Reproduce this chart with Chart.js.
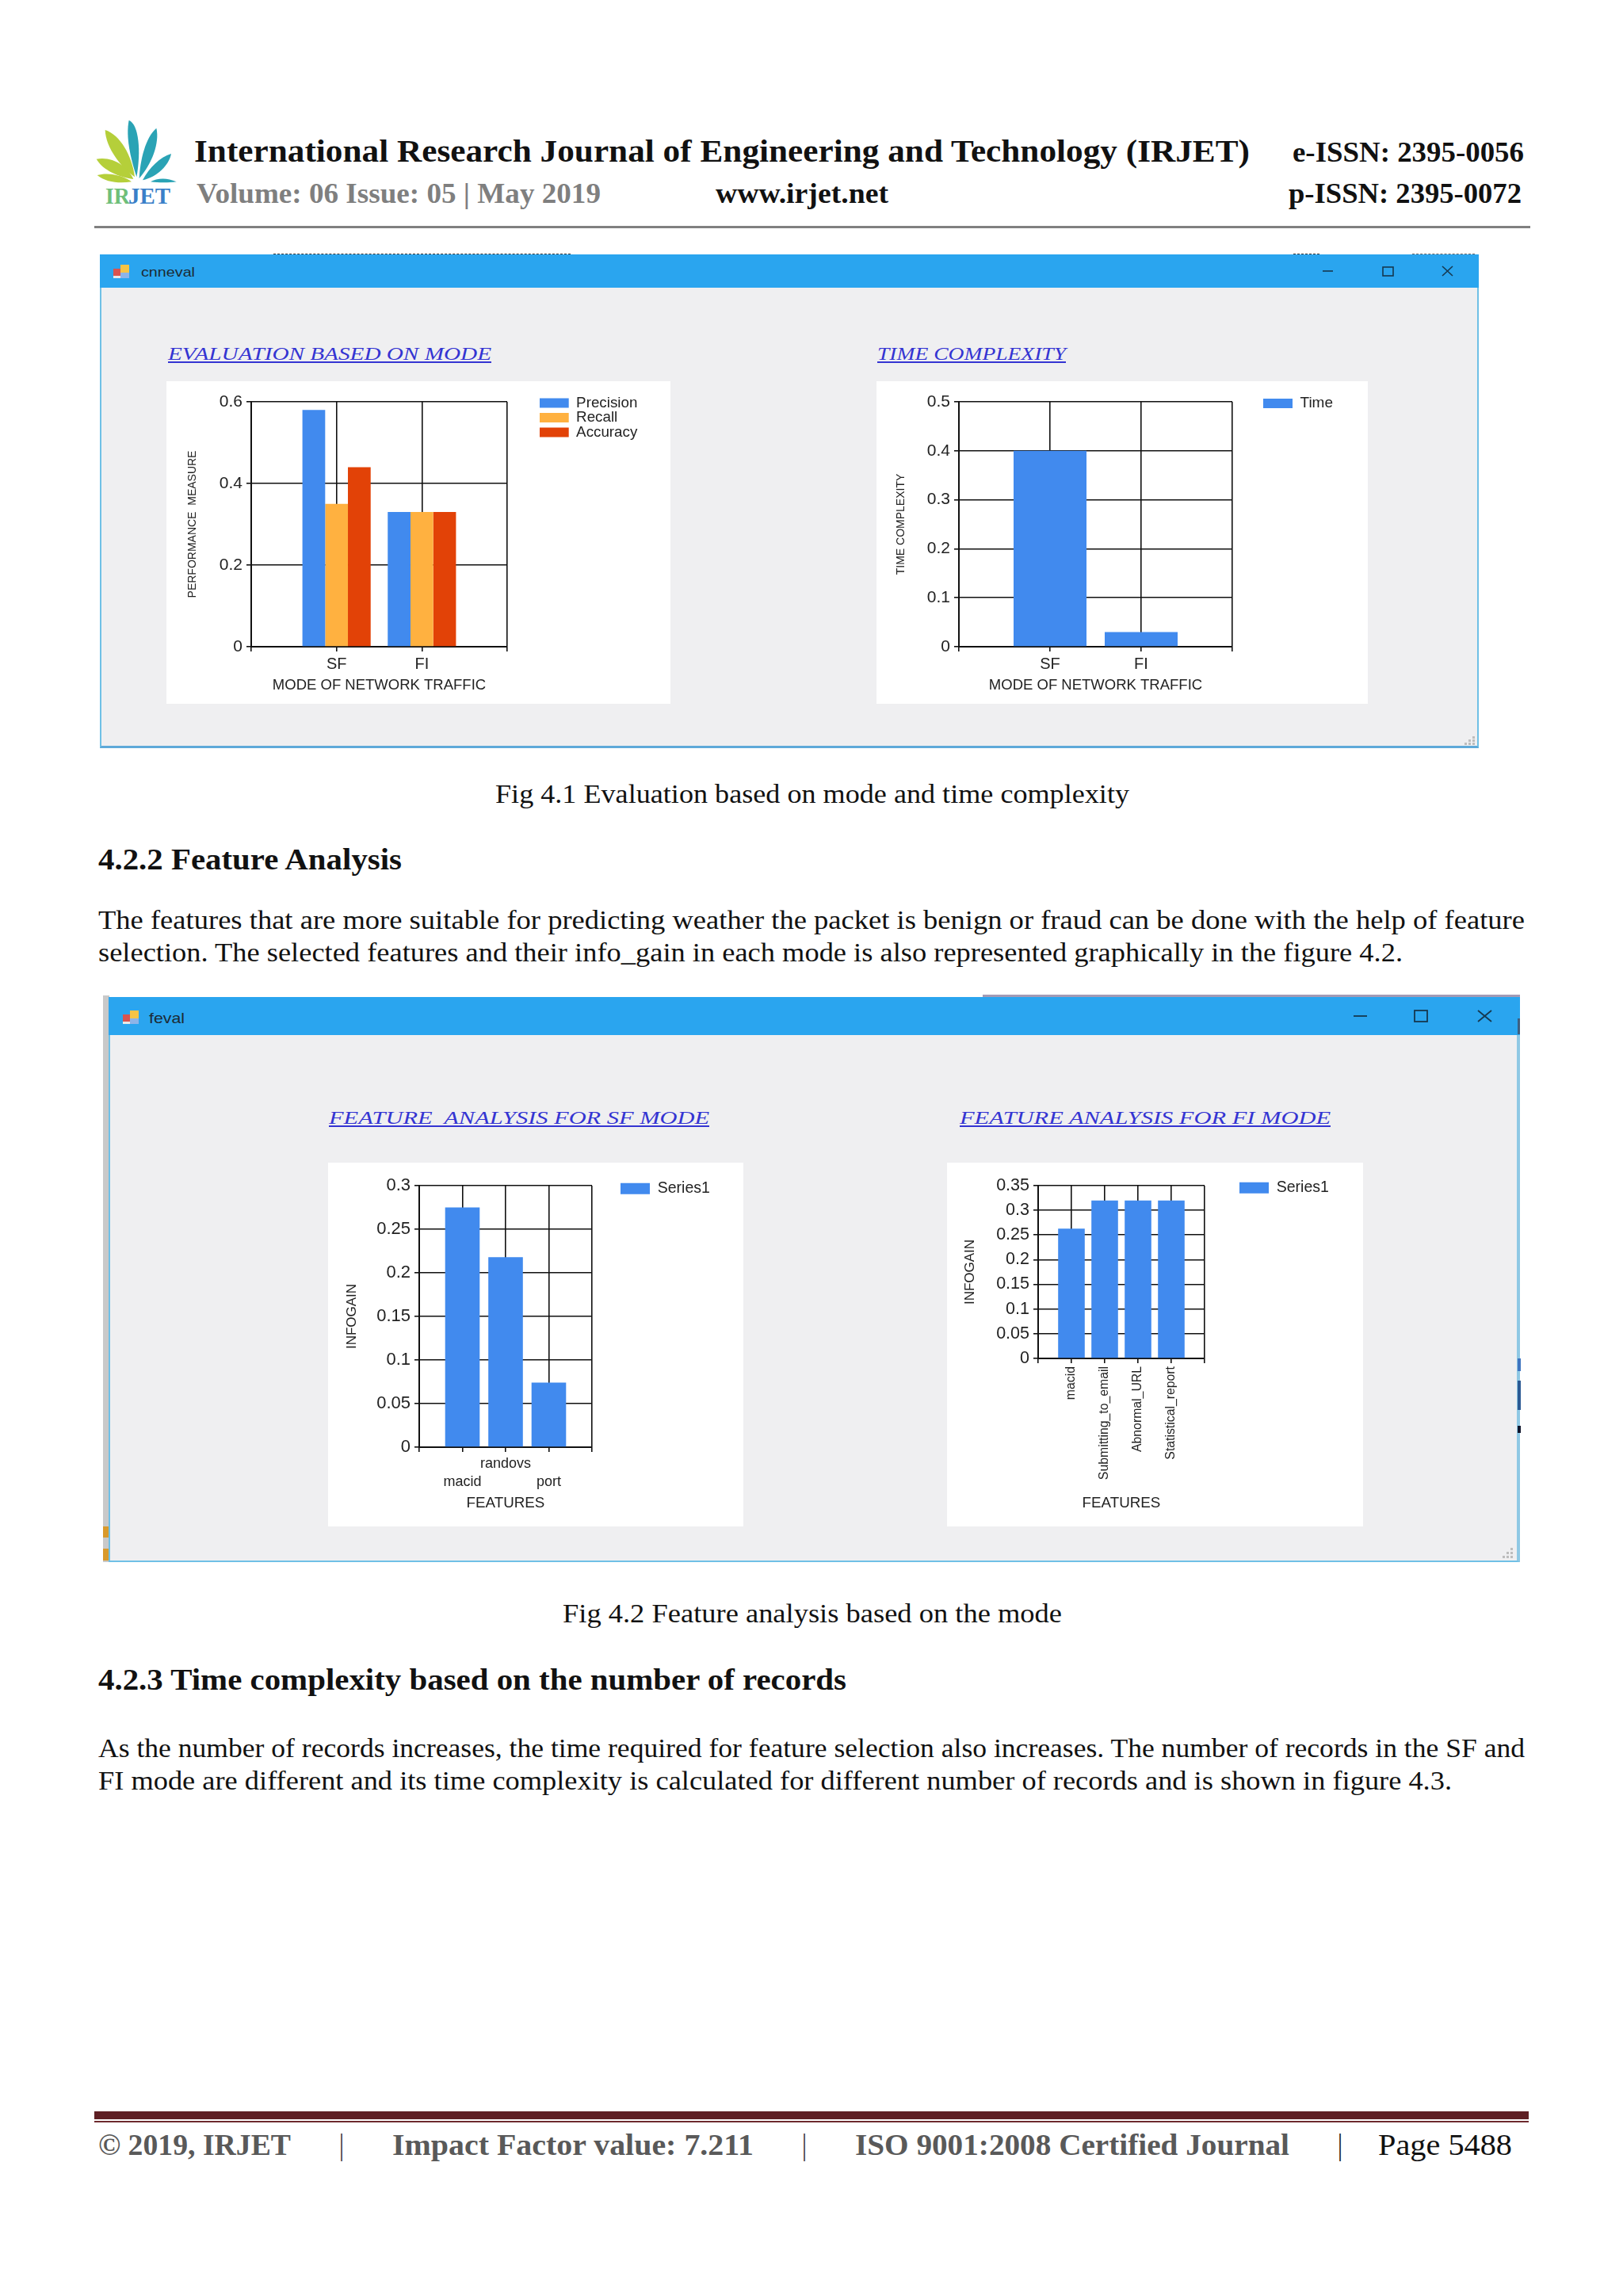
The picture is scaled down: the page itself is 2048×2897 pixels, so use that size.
<!DOCTYPE html>
<html>
<head>
<meta charset="utf-8">
<title>IRJET page 5488</title>
<script src="https://cdn.jsdelivr.net/npm/chart.js@4/dist/chart.umd.min.js"></script>
<style>
    html, body { margin: 0; background: #fff; }
    #page { position: relative; width: 2048px; height: 2897px; overflow: hidden; font-family: "Liberation Serif", serif; }
    #page > * { position: absolute; }
    .txt { white-space: pre; transform-origin: left center; line-height: 1; }
    .window { background: #efeff1; box-sizing: border-box; border: 2px solid #6fc0e6; }
    .bar { background: #2aa5ef; }
    .panel { background: #fff; }
    .grip { width: 3px; height: 3px; background: #bdbdbd; }
</style>
</head>
<body>
<div id="page">
    <!-- logo -->
    <svg style="left:110px;top:140px" width="130" height="135" viewBox="0 0 390 405">
        <path d="M158 35 C195 50 205 150 187 250 C165 180 145 100 158 35Z" fill="#2aa3b5"/>
        <path d="M262 65 C275 120 245 200 197 255 C200 190 220 100 262 65Z" fill="#2aa3b5"/>
        <path d="M318 162 C310 205 265 250 210 262 C235 215 275 175 318 162Z" fill="#2aa3b5"/>
        <path d="M338 268 C300 250 262 255 240 268 C270 272 310 272 338 268Z" fill="#2aa3b5"/>
        <path d="M68 72 C125 90 170 170 180 250 C130 215 70 140 68 72Z" fill="#b5cf3a"/>
        <path d="M35 182 C95 170 155 210 175 258 C120 250 60 225 35 182Z" fill="#b5cf3a"/>
        <path d="M38 243 C80 230 140 245 168 268 C120 275 70 270 38 243Z" fill="#b5cf3a"/>
    </svg>

    <div style="left:119px;top:285px;width:1812px;height:3px;background:#808080"></div>

    <!-- first window -->
    <div style="left:345px;top:320px;width:375px;border-top:1px dashed #333"></div>
    <div style="left:1632px;top:320px;width:33px;border-top:1px dashed #333"></div>
    <div style="left:1782px;top:320px;width:79px;border-top:1px dashed #666"></div>
    <div class="window" style="left:126px;top:321px;width:1740px;height:623px;border-bottom:3px solid #5ea9d9"></div>
    <div class="bar" style="left:126px;top:321px;width:1740px;height:42px"></div>
    <svg style="left:143px;top:333px" width="22" height="20" viewBox="0 0 22 20">
        <rect x="0" y="6" width="10" height="10" fill="#d9534f"/><rect x="9" y="1" width="11" height="10" fill="#f6c445"/><rect x="9" y="11" width="11" height="7" fill="#8db4e8"/><rect x="0" y="15" width="9" height="3" fill="#e8e8e8"/>
    </svg>
    <svg style="left:1660px;top:330px" width="190" height="24" viewBox="0 0 190 24" stroke="#16384f" stroke-width="1.6" fill="none">
        <path d="M9 12 H22"/><rect x="85" y="7" width="13" height="11"/><path d="M160 6 L173 18 M173 6 L160 18"/>
    </svg>
    <div class="grip" style="left:1858px;top:929px"></div>
    <div class="grip" style="left:1853px;top:933px"></div><div class="grip" style="left:1858px;top:933px"></div>
    <div class="grip" style="left:1848px;top:937px"></div><div class="grip" style="left:1853px;top:937px"></div><div class="grip" style="left:1858px;top:937px"></div>

    <!-- second window -->
    <div style="left:130px;top:1256px;width:8px;height:715px;background:#c9c9c9"></div>
    <div style="left:130px;top:1926px;width:7px;height:14px;background:#d99a2b"></div>
    <div style="left:130px;top:1954px;width:7px;height:15px;background:#d99a2b"></div>
    <div style="left:1240px;top:1255px;width:678px;height:3px;background:#a39bb5"></div>
    <div class="window" style="left:137px;top:1258px;width:1781px;height:713px;border-right:4px solid #8fc8e4"></div>
    <div class="bar" style="left:137px;top:1258px;width:1781px;height:48px"></div>
    <div style="left:1915px;top:1714px;width:4px;height:16px;background:#3f74c0"></div>
    <div style="left:1915px;top:1742px;width:4px;height:37px;background:#2c5a94"></div>
    <div style="left:1915px;top:1799px;width:4px;height:9px;background:#10152c"></div>
    <div style="left:1915px;top:1285px;width:3px;height:20px;background:#3d5f80"></div>
    <svg style="left:154px;top:1274px" width="24" height="20" viewBox="0 0 22 20">
        <rect x="0" y="6" width="10" height="10" fill="#d9534f"/><rect x="9" y="1" width="11" height="10" fill="#f6c445"/><rect x="9" y="11" width="11" height="7" fill="#8db4e8"/><rect x="0" y="15" width="9" height="3" fill="#e8e8e8"/>
    </svg>
    <svg style="left:1700px;top:1270px" width="190" height="24" viewBox="0 0 190 24" stroke="#16384f" stroke-width="1.8" fill="none">
        <path d="M8 12 H25"/><rect x="85" y="5" width="16" height="14"/><path d="M165 5 L182 19 M182 5 L165 19"/>
    </svg>
    <div class="grip" style="left:1906px;top:1953px"></div>
    <div class="grip" style="left:1901px;top:1958px"></div><div class="grip" style="left:1906px;top:1958px"></div>
    <div class="grip" style="left:1896px;top:1963px"></div><div class="grip" style="left:1901px;top:1963px"></div><div class="grip" style="left:1906px;top:1963px"></div>

    <!-- footer rules -->
    <div style="left:119px;top:2664px;width:1810px;height:10px;background:#5e1f24"></div>
    <div style="left:119px;top:2676px;width:1810px;height:2px;background:#6d2a2e"></div>

    <div class="panel" style="left:210px;top:481px;width:636px;height:407px"><canvas id="mode_chart"></canvas></div>
    <div class="panel" style="left:1106px;top:481px;width:620px;height:407px"><canvas id="time_chart"></canvas></div>
    <div class="panel" style="left:414px;top:1467px;width:524px;height:459px"><canvas id="sf_chart"></canvas></div>
    <div class="panel" style="left:1195px;top:1467px;width:525px;height:459px"><canvas id="fi_chart"></canvas></div>
</div>
<script type="text/javascript">
    // values
    var modeLabels = ["", "SF", "FI", ""];
    var precisionValues = [null, 0.58, 0.33, null];
    var recallValues = [null, 0.35, 0.33, null];
    var accuracyValues = [null, 0.44, 0.33, null];
    var timeValues = [null, 0.4, 0.03, null];

    var sfFeatures = ["", ["", "macid"], ["randovs", ""], ["", "port"], ""];
    var sfInfogain = [null, 0.275, 0.218, 0.074, null];
    var fiFeatures = ["", "macid", "Submitting_to_email", "Abnormal_URL", "Statistical_report", ""];
    var fiInfogain = [null, 0.263, 0.32, 0.32, 0.32, null];

    var BLUE = "#418aee";
    var ORANGE = "#ffb140";
    var RED = "#e24207";
    var INK = "#222";
    var GREY = "#7f7f7f";
    var FOOT = "#595959";
    var HEAD = "#3434d2";

    // text, left, centre y, font size, weight, colour, width on the page, family, heading
    var pageText = [
        ["IR", 133, 250, 30, "bold", "#6fbf7a", 31],
        ["JET", 162, 250, 30, "bold", "#3a7fc8", 53],
        ["International Research Journal of Engineering and Technology (IRJET)", 245, 193, 41, "bold", "#111", 1332],
        ["e-ISSN: 2395-0056", 1631, 195, 36, "bold", "#111", 292],
        ["Volume: 06 Issue: 05 | May 2019", 248, 247, 36, "bold", GREY, 510],
        ["www.irjet.net", 903, 247, 36, "bold", "#111", 218],
        ["p-ISSN: 2395-0072", 1626, 247, 36, "bold", "#111", 294],

        ["cnneval", 178, 343, 17, "normal", "#1c2a33", 68, "Liberation Sans"],
        ["feval", 188, 1284, 19, "normal", "#1c2a33", 45, "Liberation Sans"],

        ["EVALUATION BASED ON MODE", 212, 449, 24, "normal", HEAD, 408, null, true],
        ["TIME COMPLEXITY", 1107, 449, 24, "normal", HEAD, 238, null, true],
        ["FEATURE  ANALYSIS FOR SF MODE", 415, 1413, 24, "normal", HEAD, 480, null, true],
        ["FEATURE ANALYSIS FOR FI MODE", 1211, 1413, 24, "normal", HEAD, 468, null, true],

        ["Fig 4.1 Evaluation based on mode and time complexity", 625, 1005, 33, "normal", "#111", 800],
        ["4.2.2 Feature Analysis", 124, 1087, 38, "bold", "#111", 383],
        ["The features that are more suitable for predicting weather the packet is benign or fraud can be done with the help of feature", 124, 1164, 33, "normal", "#111", 1800],
        ["selection. The selected features and their info_gain in each mode is also represented graphically in the figure 4.2.", 124, 1205, 33, "normal", "#111", 1646],
        ["Fig 4.2 Feature analysis based on the mode", 710, 2039, 33, "normal", "#111", 630],
        ["4.2.3 Time complexity based on the number of records", 124, 2122, 38, "bold", "#111", 944],
        ["As the number of records increases, the time required for feature selection also increases. The number of records in the SF and", 124, 2209, 33, "normal", "#111", 1800],
        ["FI mode are different and its time complexity is calculated for different number of records and is shown in figure 4.3.", 124, 2250, 33, "normal", "#111", 1708],

        ["\u00a9 2019, IRJET", 124, 2709, 38, "bold", FOOT, 243],
        ["|", 428, 2709, 38, "normal", "#333", 6],
        ["Impact Factor value: 7.211", 495, 2709, 38, "bold", FOOT, 456],
        ["|", 1012, 2709, 38, "normal", "#333", 6],
        ["ISO 9001:2008 Certified Journal", 1079, 2709, 38, "bold", FOOT, 548],
        ["|", 1688, 2709, 38, "normal", "#111", 6],
        ["Page 5488", 1739, 2709, 38, "normal", "#111", 169]
    ];

    function addText (item) {
        var el = document.createElement("div");
        el.className = "txt";
        el.textContent = item[0];
        el.style.left = item[1] + "px";
        // serif glyphs sit low in their line box
        el.style.top = (item[7] ? item[2] : item[2] - 3) + "px";
        el.style.fontSize = item[3] + "px";
        el.style.fontWeight = item[4];
        el.style.color = item[5];
        if (item[7]) el.style.fontFamily = item[7];
        if (item[8]) {
            el.style.fontStyle = "italic";
            el.style.textDecoration = "underline";
        }
        document.getElementById("page").appendChild(el);
        var fit = item[6] / el.getBoundingClientRect().width;
        el.style.transform = "translateY(-50%) scaleX(" + fit + ")";
    }
    pageText.forEach(addText);

    // puts the legend where the picture has it, the plot keeps its own box
    var placeLegend = {
        id: "placeLegend",
        afterLayout: function (chart, args, opts) {
            var legend = chart.legend;
            legend.left = opts.x;
            legend.top = opts.y;
            legend.width = 240;
            legend.height = 110;
            legend.right = opts.x + 240;
            legend.bottom = opts.y + 110;
        }
    };

    function roundTick (value) {
        return parseFloat(value.toFixed(2));
    }

    function createChart (id, box, plot, c) {
        var canvas = document.getElementById(id);
        canvas.width = box.w;
        canvas.height = box.h;
        var titleHalf = 0.6;
        var paddingLeft = c.yTitleX - box.x - titleHalf * c.yTitleSize;
        var xHeight = c.xTitleY + titleHalf * c.xTitleSize - plot.bottom;

        return new Chart(canvas.getContext("2d"), {
            type: "bar",
            data: { labels: c.labels, datasets: c.datasets },
            plugins: [placeLegend],
            options: {
                responsive: false,
                animation: false,
                devicePixelRatio: 1,
                layout: {
                    padding: {
                        left: paddingLeft,
                        top: plot.top - box.y,
                        right: box.x + box.w - plot.right,
                        bottom: box.y + box.h - plot.bottom - xHeight
                    }
                },
                plugins: {
                    tooltip: { enabled: false },
                    placeLegend: { x: c.legendX - box.x, y: c.legendY - box.y },
                    legend: {
                        display: true,
                        position: "chartArea",
                        align: "start",
                        labels: {
                            boxWidth: 37,
                            boxHeight: c.legendBox,
                            padding: c.legendGap,
                            color: INK,
                            font: { family: "Liberation Sans", size: c.legendSize }
                        }
                    }
                },
                scales: {
                    x: {
                        offset: false,
                        afterFit: function (scale) { scale.height = xHeight; },
                        border: { color: "#111", width: 2 },
                        grid: { color: "#111", lineWidth: 1.6, tickLength: 6, offset: false },
                        ticks: {
                            autoSkip: false,
                            maxRotation: c.tickRotation,
                            minRotation: c.tickRotation,
                            padding: c.xTickGap,
                            color: INK,
                            font: { family: "Liberation Sans", size: c.xTickSize, lineHeight: 1.3 }
                        },
                        title: {
                            display: true,
                            text: c.xTitle,
                            padding: 0,
                            color: INK,
                            font: { family: "Liberation Sans", size: c.xTitleSize, lineHeight: 1.2 }
                        }
                    },
                    y: {
                        min: 0,
                        max: c.yMax,
                        afterFit: function (scale) { scale.width = plot.left - box.x - paddingLeft; },
                        border: { color: "#111", width: 2 },
                        grid: { color: "#111", lineWidth: 1.6, tickLength: 6 },
                        ticks: {
                            stepSize: c.yStep,
                            padding: 5,
                            color: INK,
                            font: { family: "Liberation Sans", size: c.yTickSize },
                            callback: roundTick
                        },
                        title: {
                            display: true,
                            text: c.yTitle,
                            padding: 0,
                            color: INK,
                            font: { family: "Liberation Sans", size: c.yTitleSize, lineHeight: 1.2 }
                        }
                    }
                }
            }
        });
    }

    function series (label, values, color) {
        return {
            label: label,
            data: values,
            backgroundColor: color,
            borderWidth: 0,
            barPercentage: 1,
            categoryPercentage: 0.8
        };
    }

    createChart("mode_chart",
        { x: 210, y: 481, w: 636, h: 407 },
        { left: 317, right: 640, top: 507, bottom: 816 },
        {
            labels: modeLabels,
            datasets: [
                series("Precision", precisionValues, BLUE),
                series("Recall", recallValues, ORANGE),
                series("Accuracy", accuracyValues, RED)
            ],
            yMax: 0.6, yStep: 0.2,
            xTitle: "MODE OF NETWORK TRAFFIC", yTitle: "PERFORMANCE  MEASURE",
            xTitleY: 865, xTitleSize: 18.5, yTitleX: 243, yTitleSize: 14,
            xTickSize: 20, xTickGap: 3, yTickSize: 21, tickRotation: 0,
            legendX: 681, legendY: 499.5, legendBox: 12, legendGap: -0.3, legendSize: 18.8
        });

    createChart("time_chart",
        { x: 1106, y: 481, w: 620, h: 407 },
        { left: 1210, right: 1555, top: 507, bottom: 816 },
        {
            labels: modeLabels,
            datasets: [series("Time", timeValues, BLUE)],
            yMax: 0.5, yStep: 0.1,
            xTitle: "MODE OF NETWORK TRAFFIC", yTitle: "TIME COMPLEXITY",
            xTitleY: 865, xTitleSize: 18.5, yTitleX: 1137, yTitleSize: 14,
            xTickSize: 20, xTickGap: 3, yTickSize: 21, tickRotation: 0,
            legendX: 1594, legendY: 499.5, legendBox: 12, legendGap: 0, legendSize: 19
        });

    createChart("sf_chart",
        { x: 414, y: 1467, w: 524, h: 459 },
        { left: 529, right: 747, top: 1496, bottom: 1826 },
        {
            labels: sfFeatures,
            datasets: [series("Series1", sfInfogain, BLUE)],
            yMax: 0.3, yStep: 0.05,
            xTitle: "FEATURES", yTitle: "INFOGAIN",
            xTitleY: 1897, xTitleSize: 18.8, yTitleX: 444, yTitleSize: 17,
            xTickSize: 18, xTickGap: 3, yTickSize: 22, tickRotation: 0,
            legendX: 783, legendY: 1490, legendBox: 14, legendGap: 0, legendSize: 19.5
        });

    createChart("fi_chart",
        { x: 1195, y: 1467, w: 525, h: 459 },
        { left: 1310, right: 1520, top: 1496, bottom: 1714 },
        {
            labels: fiFeatures,
            datasets: [series("Series1", fiInfogain, BLUE)],
            yMax: 0.35, yStep: 0.05,
            xTitle: "FEATURES", yTitle: "INFOGAIN",
            xTitleY: 1897, xTitleSize: 18.8, yTitleX: 1224, yTitleSize: 17,
            xTickSize: 15.8, xTickGap: 4, yTickSize: 21.5, tickRotation: 90,
            legendX: 1564, legendY: 1489, legendBox: 14, legendGap: 0, legendSize: 19.5
        });
</script>
</body>
</html>
